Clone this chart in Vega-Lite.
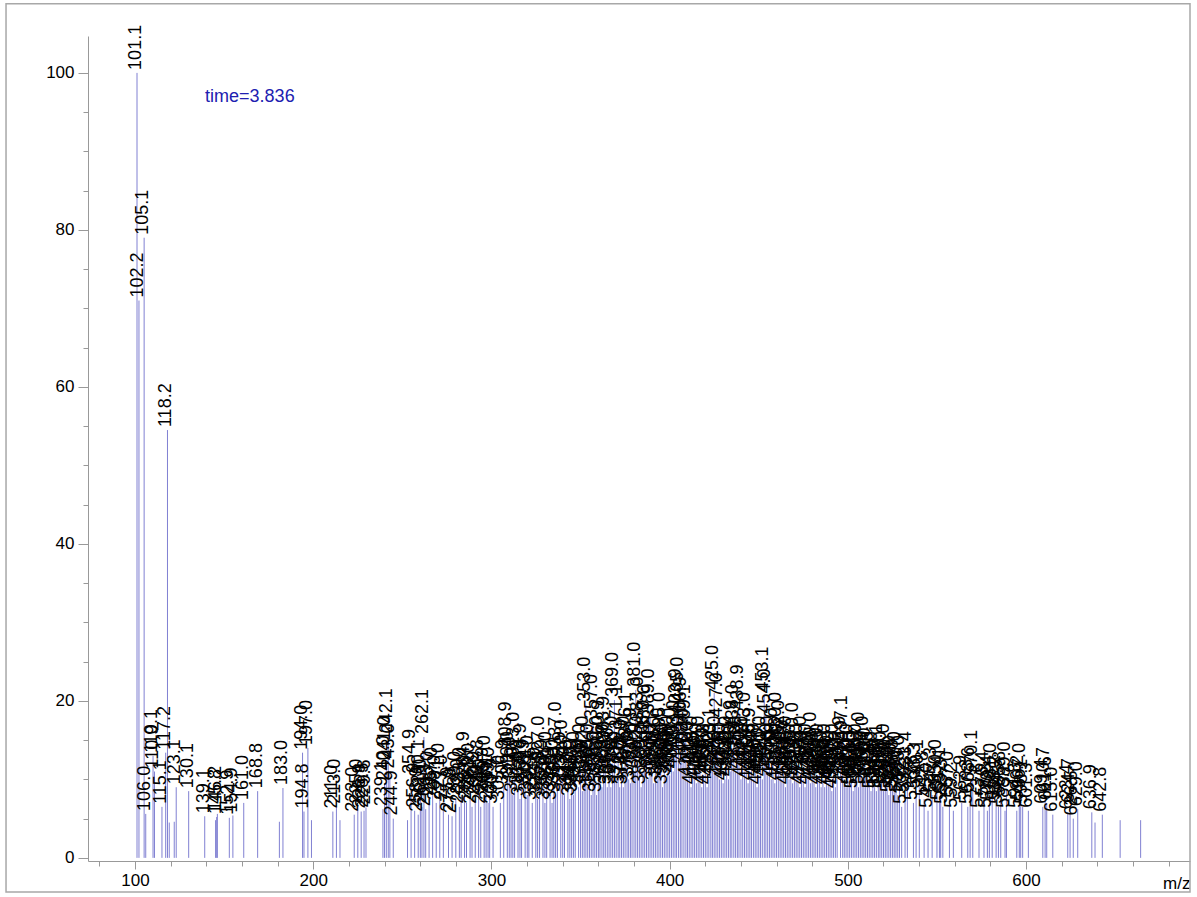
{
"$schema": "https://vega.github.io/schema/vega-lite/v6.json",
"width": 1102, "height": 825,
"autosize": {"type": "none"},
"padding": {"left": 88, "top": 36, "right": 7, "bottom": 36},
"background": "white",
"config": {"view": {"stroke": null}, "font": "Liberation Sans"},
"resolve": {"axis": {"x": "independent"}},
"datasets": {"peaks": [
{"mz":101.1,"i":100},{"mz":102.2,"i":71},{"mz":105.1,"i":79},{"mz":106.0,"i":5.6},{"mz":110.1,"i":13},{"mz":110.9,"i":11},{"mz":115.1,"i":6.5},{"mz":117.2,"i":13.4},{"mz":118.2,"i":54.5},{"mz":119.2,"i":4.5},{"mz":122.0,"i":4.6},{"mz":123.1,"i":9},{"mz":130.1,"i":8.5},{"mz":139.1,"i":5.3},{"mz":145.2,"i":4.8},{"mz":145.8,"i":5.2},{"mz":146.2,"i":5.6},{"mz":152.9,"i":5.1},{"mz":154.9,"i":5.4},{"mz":161.0,"i":7},{"mz":168.8,"i":8.5},{"mz":181.0,"i":4.6},{"mz":183.0,"i":8.9},{"mz":194.0,"i":13.4},{"mz":194.8,"i":5.9},{"mz":197.0,"i":14},{"mz":199.0,"i":4.8},{"mz":211.0,"i":5.9},{"mz":213.0,"i":6.5},{"mz":215.0,"i":4.8},{"mz":223.0,"i":5.5},{"mz":225.0,"i":6.5},{"mz":226.9,"i":5.9},{"mz":228.5,"i":6},{"mz":229.6,"i":6.4},{"mz":239.1,"i":6.2},{"mz":240.0,"i":9.5},{"mz":241.0,"i":12},{"mz":242.1,"i":15.5},{"mz":243.0,"i":11},{"mz":244.9,"i":5},
{"mz":252.9,"i":4.8},{"mz":254.9,"i":10.3},{"mz":256.9,"i":6},{"mz":258.9,"i":5.5},{"mz":260.1,"i":9},{"mz":261.0,"i":6.5},{"mz":262.1,"i":15.4},{"mz":263.1,"i":6.2},{"mz":265.0,"i":7.5},{"mz":267.0,"i":8},{"mz":269.0,"i":7},{"mz":271.0,"i":8.5},{"mz":273.0,"i":7},{"mz":275.9,"i":5.5},{"mz":277.9,"i":5.3},{"mz":280.0,"i":7.5},{"mz":282.0,"i":6.5},{"mz":283.0,"i":8},{"mz":284.9,"i":10},{"mz":286.0,"i":7},{"mz":288.0,"i":8.5},{"mz":289.1,"i":6.5},{"mz":290.9,"i":7.5},{"mz":292.8,"i":9},{"mz":294.0,"i":6.5},{"mz":295.9,"i":8},{"mz":297.0,"i":9.5},{"mz":298.1,"i":7},{"mz":299.0,"i":8},{"mz":300.9,"i":6.5},
{"mz":305.0,"i":7},{"mz":306.9,"i":9},{"mz":308.9,"i":13.8},{"mz":310.0,"i":10},{"mz":311.0,"i":9.5},{"mz":312.0,"i":8},{"mz":313.0,"i":12.5},{"mz":314.9,"i":9},{"mz":316.0,"i":7.5},{"mz":316.9,"i":11},{"mz":318.9,"i":9},{"mz":320.1,"i":8},{"mz":321.0,"i":9.5},{"mz":322.9,"i":7},{"mz":324.9,"i":8},{"mz":325.9,"i":7.5},{"mz":327.0,"i":12},{"mz":328.9,"i":9},{"mz":330.0,"i":7},{"mz":331.0,"i":10},{"mz":332.9,"i":8},{"mz":334.0,"i":7},{"mz":335.0,"i":9},{"mz":336.0,"i":8},{"mz":337.0,"i":13.8},{"mz":338.9,"i":10},{"mz":340.0,"i":11.5},{"mz":341.0,"i":8},{"mz":342.9,"i":9},{"mz":344.0,"i":7.5},
{"mz":345.0,"i":9},{"mz":346.0,"i":8},{"mz":347.0,"i":10},{"mz":348.9,"i":9},{"mz":350.0,"i":11},{"mz":351.0,"i":8.5},{"mz":352.0,"i":12},{"mz":353.0,"i":19.5},{"mz":354.0,"i":9},{"mz":355.0,"i":11},{"mz":356.0,"i":8},{"mz":357.0,"i":17.3},{"mz":358.0,"i":10},{"mz":359.0,"i":8},{"mz":360.0,"i":12},{"mz":360.9,"i":14},{"mz":362.0,"i":9},{"mz":363.0,"i":11},{"mz":363.9,"i":14.5},{"mz":365.0,"i":9},{"mz":366.0,"i":10.5},{"mz":367.0,"i":9},{"mz":368.0,"i":12},{"mz":369.0,"i":20.1},{"mz":370.0,"i":10},{"mz":371.1,"i":16},{"mz":372.0,"i":9},{"mz":373.0,"i":11.5},{"mz":374.0,"i":9},{"mz":375.0,"i":12},{"mz":376.1,"i":15},{"mz":377.0,"i":10},{"mz":378.0,"i":9.5},{"mz":378.9,"i":13},{"mz":380.0,"i":11},{"mz":381.0,"i":21.4},{"mz":382.0,"i":12},{"mz":383.0,"i":17},{"mz":384.0,"i":9},{"mz":385.0,"i":11},{"mz":386.0,"i":14},{"mz":387.0,"i":16},{"mz":388.0,"i":10},{"mz":389.0,"i":18},{"mz":390.0,"i":11},{"mz":391.0,"i":9.5},{"mz":392.0,"i":12},{"mz":393.0,"i":10},{"mz":394.0,"i":13},{"mz":395.0,"i":15},{"mz":396.0,"i":9},{"mz":397.0,"i":11},{"mz":398.0,"i":10},{"mz":399.0,"i":12},
{"mz":400.0,"i":10.5},{"mz":401.0,"i":13},{"mz":402.0,"i":11},{"mz":403.0,"i":14},{"mz":403.9,"i":18},{"mz":405.0,"i":19.5},{"mz":406.0,"i":12},{"mz":406.9,"i":17},{"mz":408.0,"i":13},{"mz":409.1,"i":16},{"mz":410.0,"i":10},{"mz":411.0,"i":11.5},{"mz":412.0,"i":9},{"mz":413.0,"i":12},{"mz":414.0,"i":10},{"mz":415.0,"i":9.5},{"mz":416.0,"i":11},{"mz":417.0,"i":12},{"mz":418.0,"i":9},{"mz":419.0,"i":10.5},{"mz":420.0,"i":11},{"mz":421.0,"i":9},{"mz":422.0,"i":10},{"mz":423.1,"i":13},{"mz":424.0,"i":11},{"mz":425.0,"i":21},{"mz":426.0,"i":12},{"mz":427.0,"i":17.5},{"mz":428.0,"i":10},{"mz":429.0,"i":11},{"mz":430.0,"i":9.5},{"mz":431.0,"i":10},{"mz":432.0,"i":12},{"mz":433.0,"i":10},{"mz":434.0,"i":11},{"mz":434.9,"i":14},{"mz":436.0,"i":16},{"mz":437.0,"i":11},{"mz":438.0,"i":12},{"mz":438.9,"i":18.5},{"mz":440.0,"i":10},{"mz":441.0,"i":12},{"mz":442.0,"i":11},{"mz":443.0,"i":15},{"mz":444.0,"i":9.5},{"mz":445.0,"i":11},{"mz":445.9,"i":13},{"mz":447.0,"i":10},{"mz":448.0,"i":11},{"mz":449.0,"i":9},{"mz":450.0,"i":10.5},{"mz":451.0,"i":12},{"mz":452.0,"i":10},{"mz":453.1,"i":20.8},{"mz":454.0,"i":18},{"mz":455.0,"i":11},{"mz":456.0,"i":12},{"mz":457.0,"i":10},{"mz":458.0,"i":13},{"mz":459.0,"i":9.5},{"mz":460.0,"i":15},{"mz":461.0,"i":11},{"mz":462.0,"i":14},{"mz":463.0,"i":10},{"mz":464.0,"i":11.5},{"mz":465.0,"i":9},{"mz":466.0,"i":12},{"mz":467.0,"i":10},{"mz":468.0,"i":11},{"mz":469.0,"i":9.5},
{"mz":470.0,"i":13.7},{"mz":471.0,"i":10},{"mz":472.0,"i":11},{"mz":473.0,"i":9},{"mz":474.0,"i":12},{"mz":475.0,"i":10},{"mz":476.0,"i":9},{"mz":477.0,"i":11},{"mz":478.0,"i":10},{"mz":479.0,"i":9.5},{"mz":480.0,"i":12.5},{"mz":481.0,"i":10},{"mz":482.0,"i":9},{"mz":483.0,"i":10.5},{"mz":484.0,"i":11},{"mz":485.0,"i":9},{"mz":486.0,"i":10},{"mz":487.0,"i":9},{"mz":488.0,"i":11},{"mz":489.0,"i":9.5},{"mz":490.0,"i":10},{"mz":491.0,"i":8.5},{"mz":492.0,"i":11},{"mz":493.0,"i":9},{"mz":494.0,"i":10},{"mz":495.9,"i":12},{"mz":497.1,"i":14.6},{"mz":498.0,"i":10},{"mz":499.0,"i":9},{"mz":500.0,"i":11},{"mz":501.0,"i":9},{"mz":502.0,"i":10},{"mz":503.0,"i":8.5},{"mz":504.0,"i":10},{"mz":505.0,"i":11},{"mz":506.0,"i":9},{"mz":507.0,"i":12.5},{"mz":508.0,"i":10},{"mz":509.0,"i":12},{"mz":510.0,"i":10.5},{"mz":511.0,"i":9},{"mz":512.0,"i":10},{"mz":513.0,"i":8.5},{"mz":514.0,"i":10},{"mz":515.0,"i":9},{"mz":516.0,"i":8.5},{"mz":517.1,"i":11},{"mz":518.0,"i":9},{"mz":519.0,"i":10},{"mz":520.0,"i":8.5},{"mz":521.0,"i":11},{"mz":522.0,"i":9},{"mz":523.0,"i":8},{"mz":524.0,"i":9.5},{"mz":525.0,"i":8.5},{"mz":526.0,"i":9},{"mz":527.0,"i":10},{"mz":528.0,"i":8},{"mz":529.0,"i":9.5},
{"mz":530.2,"i":6.5},{"mz":532.1,"i":8},{"mz":533.4,"i":10},{"mz":536.8,"i":7},{"mz":538.3,"i":8.5},{"mz":540.1,"i":9},{"mz":542.8,"i":7.5},{"mz":545.0,"i":6},{"mz":547.3,"i":8},{"mz":550.0,"i":9},{"mz":551.4,"i":7},{"mz":552.1,"i":8},{"mz":553.3,"i":6.5},{"mz":557.0,"i":7.5},{"mz":559.2,"i":6},{"mz":563.9,"i":7},{"mz":567.3,"i":6.5},{"mz":568.6,"i":8},{"mz":570.1,"i":10.2},{"mz":573.6,"i":6},{"mz":576.4,"i":7.5},{"mz":578.3,"i":6},{"mz":579.4,"i":7},{"mz":581.0,"i":8.5},{"mz":583.2,"i":7},{"mz":584.5,"i":6.5},{"mz":585.8,"i":7.5},{"mz":588.2,"i":6},{"mz":589.0,"i":8.7},{"mz":594.8,"i":6},{"mz":596.2,"i":7},{"mz":597.0,"i":8.5},{"mz":598.1,"i":6.5},{"mz":601.3,"i":6},{"mz":609.4,"i":6.5},{"mz":610.7,"i":8},{"mz":611.6,"i":7},{"mz":615.0,"i":5.5},{"mz":623.4,"i":5.8},{"mz":624.7,"i":6.6},{"mz":626.5,"i":5},{"mz":629.0,"i":6.2},{"mz":636.9,"i":5.8},{"mz":638.7,"i":4.5},{"mz":642.8,"i":5.5},{"mz":652.8,"i":4.8},{"mz":664.3,"i":4.8}
]},
"layer": [
{"data": {"name": "peaks"},
 "mark": {"type": "rule", "color": "#8080d2", "strokeWidth": 1},
 "encoding": {
  "x": {"field": "mz", "type": "quantitative",
   "scale": {"domain": [73.6, 692], "nice": false, "zero": false},
   "axis": {"orient": "bottom", "values": [100,200,300,400,500,600],
    "tickSize": 8, "labelOverlap": false,
    "grid": false, "domainColor": "#999999", "tickColor": "#999999",
    "labelFontSize": 17, "labelFont": "Liberation Sans", "labelColor": "black", "labelPadding": 3,
    "title": "m/z", "titleFont": "Liberation Sans", "titleFontSize": 17, "titleFontWeight": "normal", "titleColor": "black",
    "titleAnchor": "end", "titleAlign": "right", "titleBaseline": "alphabetic", "titleX": 1102, "titleY": 27}},
  "y": {"field": "i", "type": "quantitative",
   "scale": {"domain": [-0.4, 104.7], "nice": false, "zero": false},
   "axis": {"values": [0,5,10,15,20,25,30,35,40,45,50,55,60,65,70,75,80,85,90,95,100],
    "tickSize": {"condition": {"test": "datum.value % 20 === 0", "value": 10}, "value": 5},
    "labelExpr": "datum.value % 20 === 0 ? datum.label : ''",
    "labelOverlap": false,
    "grid": false, "domainColor": "#999999", "tickColor": "#999999",
    "labelFontSize": 17, "labelFont": "Liberation Sans", "labelColor": "black", "labelPadding": 4,
    "title": null}},
  "y2": {"datum": 0}
 }},
{"data": {"name": "peaks"},
 "transform": [{"filter": "datum.i >= 5"}],
 "mark": {"type": "text", "angle": 270, "align": "left", "baseline": "middle", "dx": 3, "dy": -1, "fontSize": 18, "font": "Liberation Sans", "color": "black"},
 "encoding": {
  "x": {"field": "mz", "type": "quantitative",
   "axis": {"orient": "bottom", "values": [80,120,140,160,180,220,240,260,280,320,340,360,380,420,440,460,480,520,540,560,580,620,640,660,680],
    "tickSize": 5, "labels": false, "domain": false, "grid": false, "tickColor": "#999999", "title": null}},
  "y": {"field": "i", "type": "quantitative"},
  "text": {"field": "mz", "type": "quantitative", "format": ".1f"}
 }},
{"data": {"values": [{}]},
 "mark": {"type": "rect", "fill": null, "stroke": "#a8a8a8", "strokeWidth": 1.5, "clip": false},
 "encoding": {
  "x": {"datum": 27.6, "type": "quantitative", "axis": null}, "x2": {"datum": 692},
  "y": {"datum": 108.8, "type": "quantitative"}, "y2": {"datum": -4.35}
 }},
{"data": {"values": [{}]},
 "mark": {"type": "text", "align": "left", "baseline": "middle", "fontSize": 18, "font": "Liberation Sans", "color": "#2020b0"},
 "encoding": {
  "x": {"datum": 139.3, "type": "quantitative", "axis": null},
  "y": {"datum": 96.9, "type": "quantitative"},
  "text": {"value": "time=3.836"}
 }}
]
}
